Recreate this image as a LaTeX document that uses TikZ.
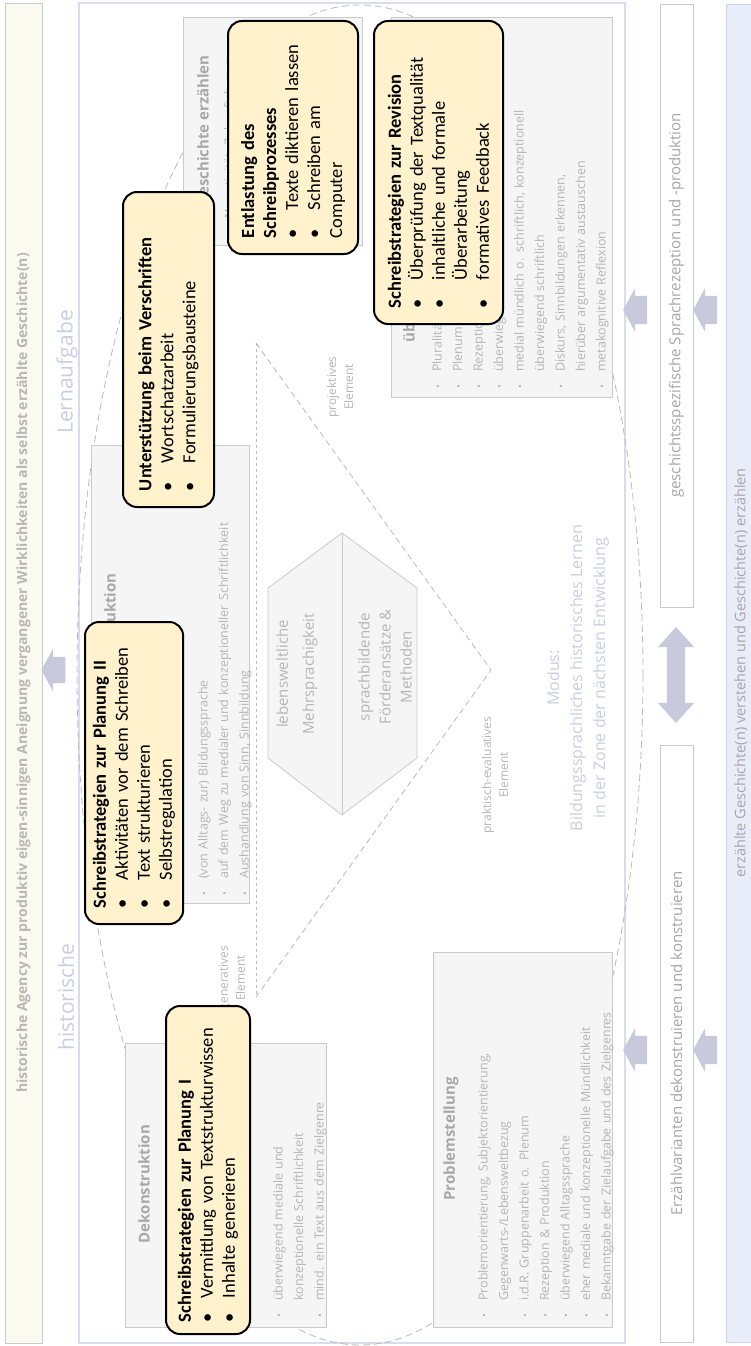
\documentclass[tikz,border=0pt]{standalone}
\usepackage{fontspec}
\setmainfont{Open Sans}
\newfontfamily\calfont{Carlito}
\usetikzlibrary{shapes.arrows}

\definecolor{callfill}{HTML}{FFF2CC}
\definecolor{boxfill}{HTML}{F5F5F5}
\definecolor{boxline}{HTML}{CACACA}
\definecolor{boxtext}{HTML}{B5B5B5}
\definecolor{boxhead}{HTML}{A8A8A8}
\definecolor{framecol}{HTML}{D7DCEF}
\definecolor{arrowcol}{HTML}{C8CADB}
\definecolor{watercol}{HTML}{C9CDE3}
\definecolor{stripfill}{HTML}{E9EDF9}
\definecolor{stripline}{HTML}{CBD2EB}
\definecolor{striptext}{HTML}{A6A6A6}
\definecolor{dashcol}{HTML}{B9B9B9}

\newlength{\itmind}
\setlength{\itmind}{28pt}
\newcommand{\itm}[1]{\par\hangindent=\itmind\hangafter=1\noindent\hbox to \itmind{\textbullet\hfil}#1}
\newcommand{\gitm}[1]{\par\hangindent=17pt\hangafter=1\noindent\hbox to 17pt{\fontsize{10}{10}\selectfont\textbullet\hfil}#1}

\begin{document}
\begin{tikzpicture}[x=1pt,y=-1pt,
  callout/.style={draw=black, line width=2pt, rounded corners=14pt, fill=callfill,
    rotate=90, anchor=north west, inner xsep=16pt, inner ysep=8pt, align=left,
    font=\calfont\fontsize{18.5}{22}\selectfont},
  stagebox/.style={draw=boxline, fill=boxfill, line width=0.8pt, rotate=90, inner sep=0pt},
  stagehead/.style={text=boxhead, rotate=90, inner sep=0pt, font=\bfseries\fontsize{15}{18}\selectfont},
  stagelist/.style={text=boxtext, rotate=90, anchor=north west, inner sep=0pt, align=left,
    font=\fontsize{12.5}{20.5}\selectfont},
  midtext/.style={text=boxtext, rotate=90, align=center, font=\fontsize{15}{22}\selectfont},
  elemtext/.style={text=boxtext, rotate=90, align=center, font=\fontsize{12}{17}\selectfont},
  watermark/.style={text=watercol, rotate=90, font=\fontsize{21}{24}\selectfont},
  stripbox/.style={draw=boxline, fill=white, line width=0.8pt, rotate=90, text=striptext,
    font=\fontsize{15}{18}\selectfont},
  blockarrow/.style={single arrow, fill=arrowcol, inner xsep=0pt, inner ysep=14pt,
    minimum height=24pt, single arrow head extend=8pt, single arrow tip angle=123, rotate=180},
  dashline/.style={dashcol, line width=0.8pt, dash pattern=on 6pt off 4pt}
]
\useasboundingbox (0,0) rectangle (751,1346);

%Shape: Rectangle (frame of the learning task)
\draw[framecol, line width=1.5pt] (79,3) rectangle (625,1343);

%Shape: Ellipse
\draw[dashline, dash pattern=on 7pt off 4pt] (360,675) ellipse [x radius=283, y radius=670];

%Shape: Triangle
\coordinate (triA) at (256,343);
\coordinate (triB) at (491,670);
\coordinate (triC) at (256,997);
\draw[dashline] (triA) -- (triB) -- (triC);
\draw[dashline, dash pattern=on 3pt off 3pt] (triA) -- (triC);

%Shape: Hexagon
\draw[boxline, fill=boxfill, line width=0.8pt] (342,533) -- (417,588) -- (417,758) -- (342,815) -- (268,758) -- (268,588) -- cycle;
\draw[boxline, line width=0.8pt] (342,533) -- (342,815);

% Text Node
\node[midtext] (lebens) at (297,674) {lebensweltliche\\[4pt]Mehrsprachigkeit};
\node[midtext, font=\fontsize{15}{21}\selectfont] (foerder) at (385,667) {sprachbildende\\Förderansätze \&\\Methoden};
\node[elemtext] (projektiv) at (340,387) {projektives\\Element};
\node[elemtext] (generativ) at (232,978) {generatives\\Element};
\node[elemtext] (praktisch) at (495,775) {praktisch-evaluatives\\Element};
\node[watermark, align=center, font=\fontsize{16}{23}\selectfont] (modus) at (578,678) {Modus:\\Bildungssprachliches historisches Lernen\\in der Zone der nächsten Entwicklung};

%Shape: Rectangle (Problemstellung)
\node[stagebox, minimum width=375pt, minimum height=179pt] (probl) at (522.5,1139.5) {};
\node[stagehead] (probltitle) at (451,1139) {Problemstellung};
\node[stagelist, text width=360pt] (probllist) at (467,1318) {\gitm{Problemorientierung, Subjektorientierung,\break Gegenwarts-/Lebensweltbezug}\gitm{i.d.R. Gruppenarbeit o. Plenum}\gitm{Rezeption \& Produktion}\gitm{überwiegend Alltagssprache}\gitm{eher mediale und konzeptionelle Mündlichkeit}\gitm{Bekanntgabe der Zielaufgabe und des Zielgenres}};

%Shape: Rectangle (Dekonstruktion)
\node[stagebox, minimum width=284pt, minimum height=201pt] (dekon) at (225.5,1185) {};
\node[stagehead] (dekontitle) at (144,1184) {Dekonstruktion};
\node[stagelist, text width=269pt] (dekonlist) at (262,1318) {\gitm{überwiegend mediale und\break konzeptionelle Schriftlichkeit}\gitm{mind. ein Text aus dem Zielgenre}};

%Shape: Rectangle (Konstruktion)
\node[stagebox, minimum width=458pt, minimum height=158pt] (konstr) at (170,674) {};
\node[stagehead] (konstrtitle) at (110,623) {Konstruktion};
\node[stagelist, text width=452pt] (konstrlist) at (187,896) {\gitm{(von Alltags- zur) Bildungssprache}\gitm{auf dem Weg zu medialer und konzeptioneller Schriftlichkeit}\gitm{Aushandlung von Sinn, Sinnbildung}};

%Shape: Rectangle (Geschichte erzaehlen)
\node[stagebox, minimum width=228pt, minimum height=179pt] (gesch) at (272.5,131) {};
\node[stagehead] (geschtitle) at (203,131) {Geschichte erzählen};
\node[stagelist, text width=216pt] (geschlist) at (213,236) {\gitm{Narrativität, Zukunftsbezug}};

%Shape: Rectangle (Reflexion)
\node[stagebox, minimum width=380pt, minimum height=221pt] (ueber) at (501.5,207) {};
\node[stagehead, anchor=west] (uebertitle) at (409,343) {überarbeiten};
\node[stagelist, text width=369pt] (ueberlist) at (421,389) {\gitm{Pluralität}\gitm{Plenum}\gitm{Rezeption}\gitm{überwiegend}\gitm{medial mündlich o. schriftlich, konzeptionell\break überwiegend schriftlich}\gitm{Diskurs, Sinnbildungen erkennen,\break hierüber argumentativ austauschen}\gitm{metakognitive Reflexion}};

% Text Node
\node[watermark] (lernauf) at (67,372) {Lernaufgabe};
\node[watermark] (historisch) at (66,997) {historische};

%Shape: Rectangle (strips)
\node[stripbox, fill=white!96!olive, minimum width=1340pt, minimum height=37pt, text=striptext!110!black, font=\bfseries\fontsize{14}{17}\selectfont] (agency) at (23.5,673) {historische Agency zur produktiv eigen-sinnigen Aneignung vergangener Wirklichkeiten als selbst erzählte Geschichte(n)};
\node[stripbox, minimum width=603pt, minimum height=33pt] (sprache) at (676.5,305.5) {geschichtsspezifische Sprachrezeption und -produktion};
\node[stripbox, minimum width=597pt, minimum height=33pt] (varianten) at (676.5,1043.5) {Erzählvarianten dekonstruieren und konstruieren};
\node[stripbox, draw=stripline, fill=stripfill, minimum width=1338pt, minimum height=30pt, font=\fontsize{14.5}{17}\selectfont] (erzaehlen) at (741,673) {erzählte Geschichte(n) verstehen und Geschichte(n) erzählen};

%Block arrows
\node[blockarrow, inner ysep=13pt] (arrL) at (57,670) {};
\node[blockarrow] (arrA1) at (639,310) {};
\node[blockarrow] (arrA2) at (709,310) {};
\node[blockarrow] (arrB1) at (639,1050) {};
\node[blockarrow] (arrB2) at (709,1050) {};
\node[double arrow, fill=arrowcol, inner xsep=0pt, inner ysep=9pt, rotate=90, minimum height=96pt, double arrow head extend=9pt, double arrow tip angle=84] (arrD) at (676,675) {};

%Callouts
\node[callout, text width=304pt, inner xsep=12pt, minimum height=84pt] (planeins) at (165,1335) {\setlength{\itmind}{24pt}{\bfseries Schreibstrategien zur Planung I}\itm{Vermittlung von Textstrukturwissen}\itm{Inhalte generieren}};
\node[callout, text width=270pt, minimum height=98pt] (planzwei) at (84,925) {{\bfseries Schreibstrategien zur Planung II}\itm{Aktivitäten vor dem Schreiben}\itm{Text strukturieren}\itm{Selbstregulation}};
\node[callout, text width=283pt, minimum height=91pt] (verschrift) at (122,508) {{\bfseries Unterstützung beim Verschriften}\itm{Wortschatzarbeit}\itm{Formulierungsbausteine}};
\node[callout, text width=201pt, minimum height=130pt] (entlast) at (227,255) {{\bfseries Entlastung des\break Schreibprozesses}\itm{Texte diktieren lassen}\itm{Schreiben am\break Computer}};
\node[callout, text width=271pt, minimum height=129pt] (revision) at (373,325) {{\bfseries Schreibstrategien zur Revision}\itm{Überprüfung der Textqualität}\itm{inhaltliche und formale\break Überarbeitung}\itm{formatives Feedback}};

\end{tikzpicture}
\end{document}
